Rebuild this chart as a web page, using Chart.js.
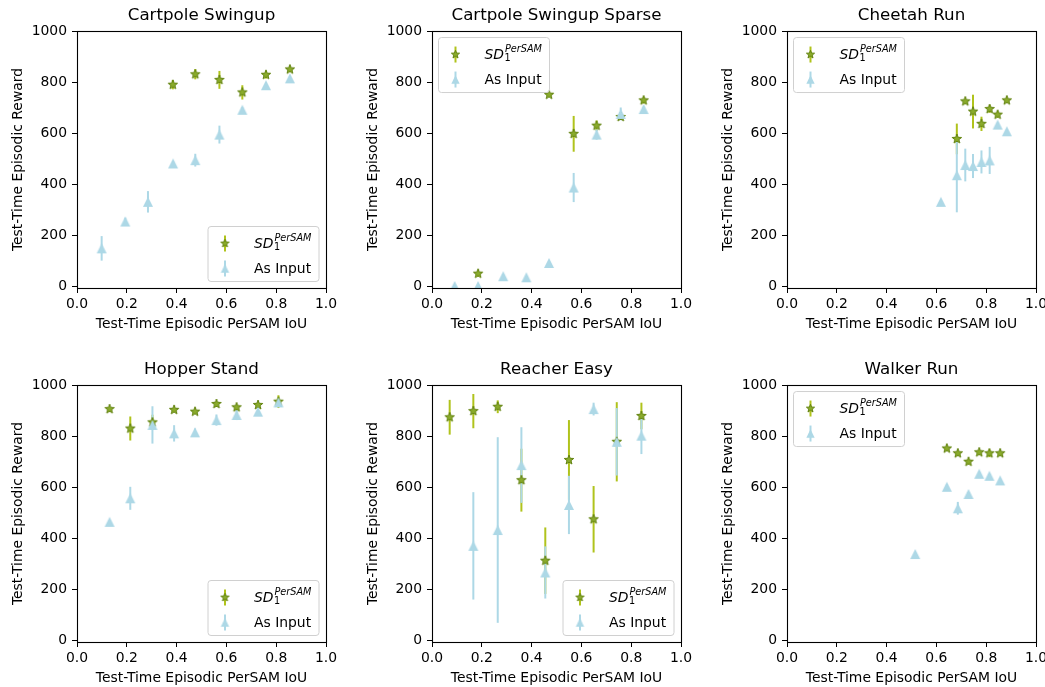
<!DOCTYPE html>
<html>
<head>
<meta charset="utf-8">
<script src="https://cdn.jsdelivr.net/npm/chart.js@4.4.0/dist/chart.umd.min.js"></script>
<style>
  html, body { margin: 0; padding: 0; background: #fff; width: 1045px; height: 687px; overflow: hidden; }
  canvas { position: absolute; }
</style>
</head>
<body>
<script>
// ---------- data ----------
const xTicks = [0, 0.2, 0.4, 0.6, 0.8, 1.0];
const yTicks = [0, 200, 400, 600, 800, 1000];
const xTitle = "Test-Time Episodic PerSAM IoU";
const yTitle = "Test-Time Episodic Reward";
const inputLabel = "As Input";

// Cartpole Swingup
const swingupSdIoU = [0.385, 0.475, 0.572, 0.664, 0.759, 0.855];
const swingupSdReward = [790, 831, 809, 760, 829, 850];
const swingupSdErr = [18, 20, 35, 28, 15, 10];
const swingupInIoU = [0.099, 0.194, 0.285, 0.386, 0.475, 0.572, 0.664, 0.759, 0.855];
const swingupInReward = [150, 255, 332, 482, 495, 595, 692, 788, 815];
const swingupInErr = [48, 15, 42, 10, 25, 35, 10, 10, 10];

// Cartpole Swingup Sparse
const sparseSdIoU = [0.185, 0.47, 0.569, 0.661, 0.758, 0.85];
const sparseSdReward = [51, 751, 598, 630, 664, 729];
const sparseSdErr = [12, 5, 70, 20, 12, 12];
const sparseInIoU = [0.091, 0.185, 0.286, 0.379, 0.47, 0.569, 0.661, 0.758, 0.85];
const sparseInReward = [3, 3, 41, 37, 93, 388, 595, 676, 695];
const sparseInErr = [3, 3, 8, 5, 8, 57, 20, 25, 10];

// Cheetah Run
const cheetahSdIoU = [0.682, 0.716, 0.747, 0.781, 0.814, 0.846, 0.883];
const cheetahSdReward = [578, 725, 685, 637, 695, 673, 729];
const cheetahSdErr = [60, 8, 66, 28, 15, 12, 8];
const cheetahInIoU = [0.618, 0.682, 0.716, 0.747, 0.781, 0.814, 0.846, 0.883];
const cheetahInReward = [332, 436, 476, 472, 488, 494, 634, 608];
const cheetahInErr = [5, 145, 64, 47, 45, 53, 8, 8];

// Hopper Stand
const hopperSdIoU = [0.131, 0.214, 0.303, 0.39, 0.474, 0.56, 0.641, 0.727, 0.809];
const hopperSdReward = [906, 830, 854, 903, 896, 926, 913, 922, 935];
const hopperSdErr = [5, 47, 30, 8, 8, 10, 10, 10, 25];
const hopperInIoU = [0.131, 0.214, 0.303, 0.39, 0.474, 0.56, 0.641, 0.727, 0.809];
const hopperInReward = [465, 557, 844, 811, 815, 863, 883, 896, 932];
const hopperInErr = [5, 45, 73, 32, 15, 22, 20, 10, 10];

// Reacher Easy
const reacherSdIoU = [0.071, 0.166, 0.264, 0.359, 0.455, 0.55, 0.649, 0.742, 0.841];
const reacherSdReward = [874, 898, 915, 628, 313, 707, 475, 778, 879];
const reacherSdErr = [68, 67, 25, 123, 130, 156, 130, 155, 52];
const reacherInIoU = [0.166, 0.264, 0.359, 0.455, 0.55, 0.649, 0.742, 0.841];
const reacherInReward = [371, 433, 687, 267, 531, 906, 778, 802];
const reacherInErr = [210, 363, 148, 102, 114, 25, 132, 72];

// Walker Run
const walkerSdIoU = [0.642, 0.686, 0.729, 0.772, 0.813, 0.856];
const walkerSdReward = [752, 733, 700, 737, 733, 733];
const walkerSdErr = [8, 8, 10, 8, 15, 8];
const walkerInIoU = [0.515, 0.642, 0.686, 0.729, 0.772, 0.813, 0.856];
const walkerInReward = [339, 602, 518, 574, 653, 645, 627];
const walkerInErr = [5, 10, 25, 8, 8, 8, 8];

// ---------- styling ----------
const FONT = '"DejaVu Sans", sans-serif';
const sdFill = "#8aab2c", sdEdge = "#62820f", sdBar = "#b0c31c";
const inFill = "#add8e6", inBar = "#add8e6";

const pts = (xs, ys) => xs.map((x, i) => ({ x: x, y: ys[i] }));

const panels = [
  { title: "Cartpole Swingup", corner: "lr", sd: pts(swingupSdIoU, swingupSdReward), sdErr: swingupSdErr, inp: pts(swingupInIoU, swingupInReward), inErr: swingupInErr },
  { title: "Cartpole Swingup Sparse", corner: "ul", sd: pts(sparseSdIoU, sparseSdReward), sdErr: sparseSdErr, inp: pts(sparseInIoU, sparseInReward), inErr: sparseInErr },
  { title: "Cheetah Run", corner: "ul", sd: pts(cheetahSdIoU, cheetahSdReward), sdErr: cheetahSdErr, inp: pts(cheetahInIoU, cheetahInReward), inErr: cheetahInErr },
  { title: "Hopper Stand", corner: "lr", sd: pts(hopperSdIoU, hopperSdReward), sdErr: hopperSdErr, inp: pts(hopperInIoU, hopperInReward), inErr: hopperInErr },
  { title: "Reacher Easy", corner: "lr", sd: pts(reacherSdIoU, reacherSdReward), sdErr: reacherSdErr, inp: pts(reacherInIoU, reacherInReward), inErr: reacherInErr },
  { title: "Walker Run", corner: "ul", sd: pts(walkerSdIoU, walkerSdReward), sdErr: walkerSdErr, inp: pts(walkerInIoU, walkerInReward), inErr: walkerInErr }
];

// ---------- marker images ----------
function makeStar(r) {
  const s = Math.ceil(r * 2 + 4);
  const c = document.createElement("canvas");
  c.width = c.height = s;
  const g = c.getContext("2d");
  g.beginPath();
  for (let i = 0; i < 10; i++) {
    const rr = i % 2 ? r * 0.42 : r;
    const a = -Math.PI / 2 + i * Math.PI / 5;
    g.lineTo(s / 2 + rr * Math.cos(a), s / 2 + rr * Math.sin(a));
  }
  g.closePath();
  g.fillStyle = sdFill;
  g.fill();
  g.lineWidth = 1;
  g.strokeStyle = sdEdge;
  g.stroke();
  return c;
}
function makeTriangle(h) {
  const s = Math.ceil(h * 2 + 2);
  const c = document.createElement("canvas");
  c.width = c.height = s;
  const g = c.getContext("2d");
  const m = s / 2;
  g.beginPath();
  g.moveTo(m, m - h);
  g.lineTo(m - h, m + h);
  g.lineTo(m + h, m + h);
  g.closePath();
  g.fillStyle = inFill;
  g.fill();
  return c;
}
const starImg = makeStar(5);
const triImg = makeTriangle(5);
const starSmall = makeStar(4.3);
const triSmall = makeTriangle(4.2);

// ---------- plugins ----------
const errorBars = {
  id: "errorBars",
  beforeDatasetsDraw(chart) {
    const ctx = chart.ctx, xs = chart.scales.x, ys = chart.scales.y;
    ctx.save();
    ctx.lineWidth = 2;
    chart.data.datasets.forEach(ds => {
      ctx.strokeStyle = ds.errColor;
      ds.data.forEach((p, i) => {
        const x = xs.getPixelForValue(p.x);
        ctx.beginPath();
        ctx.moveTo(x, ys.getPixelForValue(p.y - ds.errors[i]));
        ctx.lineTo(x, ys.getPixelForValue(p.y + ds.errors[i]));
        ctx.stroke();
      });
    });
    ctx.restore();
  }
};

const frame = {
  id: "frame",
  afterDatasetsDraw(chart) {
    const a = chart.chartArea, ctx = chart.ctx;
    ctx.save();
    ctx.strokeStyle = "#000";
    ctx.lineWidth = 1.1;
    ctx.strokeRect(Math.round(a.left) + 0.5, Math.round(a.top) + 0.5,
      Math.round(a.right) - Math.round(a.left), Math.round(a.bottom) - Math.round(a.top));
    ctx.restore();
  }
};

function roundRect(ctx, x, y, w, h, r) {
  ctx.beginPath();
  ctx.moveTo(x + r, y);
  ctx.arcTo(x + w, y, x + w, y + h, r);
  ctx.arcTo(x + w, y + h, x, y + h, r);
  ctx.arcTo(x, y + h, x, y, r);
  ctx.arcTo(x, y, x + w, y, r);
  ctx.closePath();
}

function sdLegend(corner) {
  return {
    id: "sdLegend",
    afterDraw(chart) {
      const a = chart.chartArea, ctx = chart.ctx;
      const w = 111, h = 55;
      const bx = corner === "ul" ? a.left + 6.5 : a.right - 7 - w;
      const by = corner === "ul" ? a.top + 6.5 : a.bottom - 6.5 - h;
      ctx.save();
      roundRect(ctx, bx, by, w, h, 3);
      ctx.fillStyle = "rgba(255,255,255,0.8)";
      ctx.fill();
      ctx.strokeStyle = "#d0d0d0";
      ctx.lineWidth = 1;
      ctx.stroke();

      const mx = bx + 17, r1 = by + 17, r2 = by + 42;
      // row 1 handle: error bar + star
      ctx.strokeStyle = sdBar; ctx.lineWidth = 2;
      ctx.beginPath(); ctx.moveTo(mx, r1 - 8); ctx.lineTo(mx, r1 + 8); ctx.stroke();
      ctx.drawImage(starSmall, mx - starSmall.width / 2, r1 - starSmall.height / 2);
      // row 2 handle: error bar + triangle
      ctx.strokeStyle = inBar;
      ctx.beginPath(); ctx.moveTo(mx, r2 - 8); ctx.lineTo(mx, r2 + 8); ctx.stroke();
      ctx.drawImage(triSmall, mx - triSmall.width / 2, r2 - triSmall.height / 2);

      // labels
      const tx = bx + 46;
      ctx.fillStyle = "#000";
      ctx.textBaseline = "alphabetic";
      ctx.textAlign = "left";
      ctx.font = "italic 13.9px " + FONT;
      ctx.fillText("SD", tx, by + 21.6);
      const sw = ctx.measureText("SD").width;
      ctx.font = "9.7px " + FONT;
      ctx.fillText("1", tx + sw + 0.5, by + 23);
      ctx.font = "italic 9.7px " + FONT;
      ctx.fillText("PerSAM", tx + sw + 1, by + 14);
      ctx.font = "13.9px " + FONT;
      ctx.fillText(inputLabel, tx, by + 46.6);
      ctx.restore();
    }
  };
}

// ---------- charts ----------
const colLeft = [0, 355, 710];
const rowTop = [0, 354];

function makeChart(p, idx) {
  const canvas = document.createElement("canvas");
  canvas.width = 360;
  canvas.height = 343;
  canvas.style.left = colLeft[idx % 3] + "px";
  canvas.style.top = rowTop[Math.floor(idx / 3)] + "px";
  document.body.appendChild(canvas);

  const tickFont = { family: FONT, size: 13.9 };
  return new Chart(canvas, {
    type: "scatter",
    data: {
      datasets: [
        { label: "SD1 PerSAM", data: p.sd, errors: p.sdErr, errColor: sdBar, pointStyle: starImg, pointRadius: 5, order: 2 },
        { label: inputLabel, data: p.inp, errors: p.inErr, errColor: inBar, pointStyle: triImg, pointRadius: 5, order: 1 }
      ]
    },
    options: {
      responsive: false,
      animation: false,
      events: [],
      layout: { padding: { left: 0, right: 34, top: 0, bottom: 0 } },
      plugins: {
        legend: { display: false },
        tooltip: { enabled: false },
        title: {
          display: true, text: p.title, fullSize: false, color: "#000",
          font: { family: FONT, size: 16.7, weight: "normal" },
          padding: { top: 6, bottom: 5 }
        }
      },
      scales: {
        x: {
          type: "linear", min: 0, max: 1,
          afterFit: s => { s.height = 55; },
          afterBuildTicks: s => { s.ticks = xTicks.map(v => ({ value: v })); },
          ticks: { color: "#000", font: tickFont, padding: 3, maxRotation: 0, autoSkip: false, callback: v => v.toFixed(1) },
          grid: { drawOnChartArea: false, drawTicks: true, tickLength: 5, color: "#000", lineWidth: 1 },
          border: { display: false },
          title: { display: true, text: xTitle, color: "#000", font: tickFont, padding: { top: 0, bottom: 10 } }
        },
        y: {
          type: "linear", min: -5, max: 1000,
          afterFit: s => { s.width = 77; },
          afterBuildTicks: s => { s.ticks = yTicks.map(v => ({ value: v })); },
          ticks: { color: "#000", font: tickFont, padding: 5, autoSkip: false, callback: v => String(v) },
          grid: { drawOnChartArea: false, drawTicks: true, tickLength: 5, color: "#000", lineWidth: 1 },
          border: { display: false },
          title: { display: true, text: yTitle, color: "#000", font: tickFont, padding: { top: 10, bottom: 0 } }
        }
      }
    },
    plugins: [errorBars, frame, sdLegend(p.corner)]
  });
}

panels.forEach((p, i) => makeChart(p, i));
</script>
</body>
</html>
